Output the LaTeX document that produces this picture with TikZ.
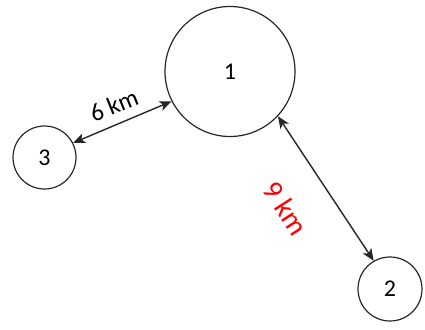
\documentclass[tikz,border=0pt]{standalone}
\usepackage{fontspec}
\setmainfont{Carlito}
\usetikzlibrary{arrows.meta}
\begin{document}
\begin{tikzpicture}[x=1pt,y=-1pt,
  site/.style={draw=black!85,line width=1.2pt,circle,inner sep=0pt,font=\fontsize{24}{28}\selectfont},
  dist/.style={draw=black!85,line width=1.4pt,{Stealth[length=12pt,width=10pt,inset=3pt]}-{Stealth[length=12pt,width=10pt,inset=3pt]}},
  lab/.style={inner sep=0pt,font=\fontsize{25}{28}\selectfont}]
\useasboundingbox (0,0) rectangle (425,329);
\node[site,minimum size=130pt] (n1) at (230,71.5) {1};
\node[site,minimum size=63pt] (n3) at (44.5,157.5) {3};
\node[site,minimum size=64pt] (n2) at (390,289) {2};
\draw[dist] (n3.27) -- (n1.207);
\draw[dist] (n1.-43) -- (n2.120);
\node[lab,rotate=22] (l6) at (114,105) {6 km};
\node[lab,rotate=-57,text=red,font=\fontsize{29}{32}\selectfont] (l9) at (286,208) {9 km};
\end{tikzpicture}
\end{document}
